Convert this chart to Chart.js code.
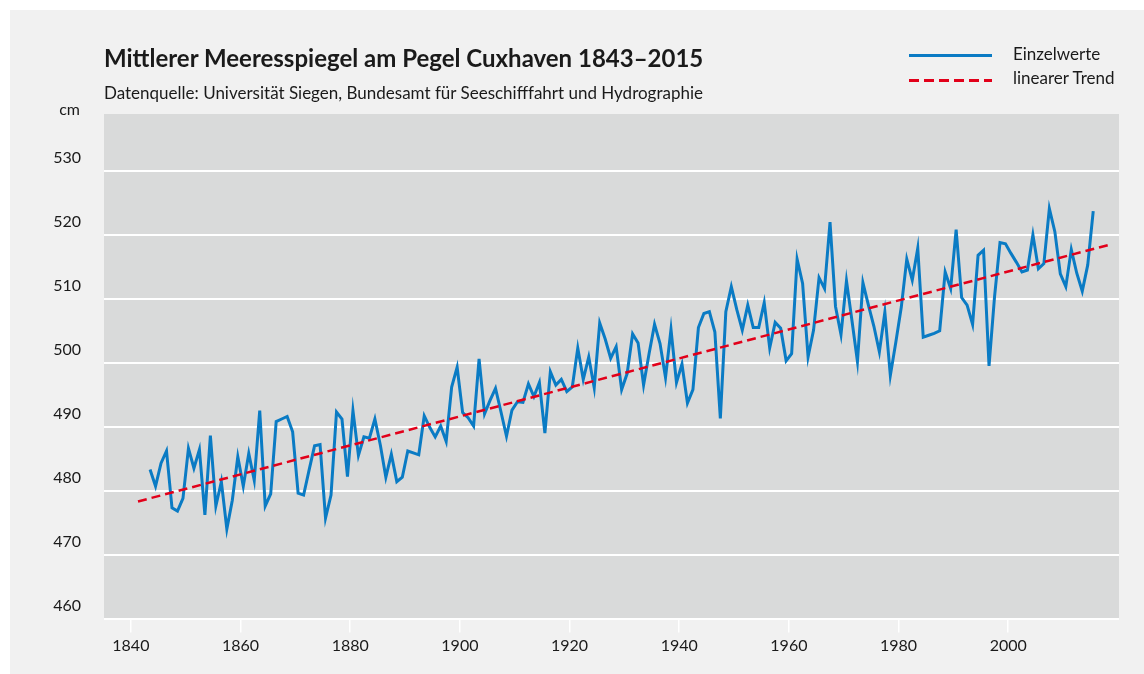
<!DOCTYPE html>
<html lang="de">
<head>
<meta charset="utf-8">
<title>Mittlerer Meeresspiegel am Pegel Cuxhaven</title>
<script src="https://cdn.jsdelivr.net/npm/chart.js@4.4.1/dist/chart.umd.min.js"></script>
<style>
  body { margin: 0; background: #fff; font-family: Lato, "Noto Sans", sans-serif; color: #1a1a1a; }
  #panel { position: absolute; left: 10px; top: 10px; width: 1134px; height: 664px; background: #f1f1f1; }
  #chart { position: absolute; left: 0; top: 0; }
  .txt { position: absolute; white-space: nowrap; }
  #title { left: 104px; top: 46px; font-size: 24px; line-height: 24px; font-weight: bold; }
  #subtitle { left: 104px; top: 84px; font-size: 17px; line-height: 17px; }
  #unit { right: 1064px; top: 101px; font-size: 16px; line-height: 16px; }
  .leg-text { left: 1013px; font-size: 17px; line-height: 17px; }
  .leg-line { position: absolute; left: 909px; width: 83px; }
</style>
</head>
<body>
<div id="panel"></div>
<canvas id="chart" width="1144" height="674"></canvas>
<div class="txt" id="title">Mittlerer Meeresspiegel am Pegel Cuxhaven 1843–2015</div>
<div class="txt" id="subtitle">Datenquelle: Universität Siegen, Bundesamt für Seeschifffahrt und Hydrographie</div>
<div class="txt" id="unit">cm</div>
<div class="leg-line" style="top:54px;height:3px;background:#0a7bc4"></div>
<div class="txt leg-text" style="top:45px">Einzelwerte</div>
<div class="leg-line" style="top:79px;height:2.5px;background:repeating-linear-gradient(90deg,#e2001a 0 10px,transparent 10px 15px)"></div>
<div class="txt leg-text" style="top:69px">linearer Trend</div>
<script>
// yearly mean sea level, cm (1843 .. 2015)
const firstYear = 1843;
const seaLevel = [
  483.3, 480.7, 484.3, 486.2, 477.3, 476.8, 478.8, 486.6, 483.5, 486.4,
  476.2, 488.6, 477.6, 481.4, 474.0, 478.5, 485.3, 480.7, 485.8, 481.6,
  492.5, 477.6, 479.5, 490.8, 491.2, 491.6, 489.2, 479.6, 479.3, 483.2,
  487.0, 487.2, 475.7, 479.3, 492.3, 491.2, 482.2, 492.5, 485.5, 488.4,
  488.2, 491.2, 487.1, 482.1, 485.7, 481.4, 482.1, 486.2, 485.9, 485.6,
  491.7, 489.9, 488.4, 490.1, 487.7, 496.2, 499.3, 492.2, 491.4, 490.1,
  500.6, 492.0, 494.1, 496.0, 492.3, 488.5, 492.6, 493.9, 493.8, 496.7,
  494.7, 496.9, 489.0, 498.6, 496.5, 497.4, 495.5, 496.2, 502.3, 497.4,
  500.9, 496.1, 506.2, 503.7, 500.7, 502.5, 495.8, 498.3, 504.5, 503.1,
  496.5, 501.4, 506.0, 503.0, 497.7, 505.2, 496.9, 499.8, 493.7, 495.8,
  505.5, 507.7, 508.0, 504.8, 491.3, 508.0, 511.9, 508.3, 505.1, 509.0,
  505.5, 505.5, 509.4, 502.3, 506.3, 505.4, 500.3, 501.4, 516.2, 512.4,
  500.9, 505.1, 513.3, 511.6, 522.0, 508.8, 504.4, 512.8, 506.6, 500.2,
  512.5, 509.0, 505.7, 501.7, 507.9, 498.0, 503.2, 508.7, 516.2, 512.9,
  517.9, 504.0, 504.3, 504.6, 505.0, 514.2, 511.6, 520.8, 510.2, 509.0,
  506.0, 516.8, 517.6, 499.5, 510.3, 518.8, 518.6, 517.1, 515.7, 514.2,
  514.5, 520.0, 514.7, 515.5, 524.1, 520.5, 513.9, 511.9, 517.7, 514.0,
  511.2, 515.3, 523.7
];
const years = seaLevel.map((v, i) => firstYear + i);

// linear trend, end points
const trendYears = [1841.3, 2018.2];
const trendValues = [478.3, 518.4];

const xTicks = [1840, 1860, 1880, 1900, 1920, 1940, 1960, 1980, 2000];
const yTicks = [460, 470, 480, 490, 500, 510, 520, 530];

const blue = '#0a7bc4';
const red = '#e2001a';
const tickFont = { family: 'Lato, "Noto Sans", sans-serif', size: 16 };

const plotBackground = {
  id: 'plotBackground',
  beforeDraw(chart) {
    const { ctx, chartArea: a } = chart;
    ctx.save();
    ctx.fillStyle = '#d9dada';
    ctx.fillRect(a.left, a.top, a.right - a.left, a.bottom - a.top);
    ctx.restore();
  }
};

new Chart(document.getElementById('chart'), {
  type: 'line',
  data: {
    datasets: [
      {
        label: 'linearer Trend',
        data: trendYears.map((x, i) => ({ x: x, y: trendValues[i] })),
        borderColor: red,
        borderWidth: 2.5,
        borderDash: [9, 5],
        pointRadius: 0,
        order: 0
      },
      {
        label: 'Einzelwerte',
        // annual means drawn at mid-year
        data: years.map((y, i) => ({ x: y + 0.5, y: seaLevel[i] })),
        borderColor: blue,
        borderWidth: 3,
        pointRadius: 0,
        tension: 0,
        order: 1
      }
    ]
  },
  options: {
    responsive: false,
    animation: false,
    devicePixelRatio: 1,
    layout: { padding: { top: 114, right: 25, left: 0, bottom: 0 } },
    plugins: {
      legend: { display: false },
      tooltip: { enabled: false }
    },
    scales: {
      x: {
        type: 'linear',
        min: 1835.1,
        max: 2020.2,
        afterBuildTicks: s => { s.ticks = xTicks.map(v => ({ value: v })); },
        afterFit: s => { s.height = 55.5; },
        grid: { drawOnChartArea: false, drawTicks: true, tickLength: 14, color: '#ffffff', lineWidth: 1.5 },
        border: { display: false },
        ticks: { font: tickFont, color: '#1a1a1a', padding: 4, maxRotation: 0, callback: v => String(v) }
      },
      y: {
        min: 460,
        max: 538.9,
        afterBuildTicks: s => { s.ticks = yTicks.map(v => ({ value: v })); },
        afterFit: s => { s.width = 104; },
        grid: { color: '#ffffff', lineWidth: 2, drawTicks: false },
        border: { display: false },
        ticks: { font: tickFont, color: '#1a1a1a', padding: 23, labelOffset: -13, callback: v => String(v) }
      }
    }
  },
  plugins: [plotBackground]
});
</script>
</body>
</html>
